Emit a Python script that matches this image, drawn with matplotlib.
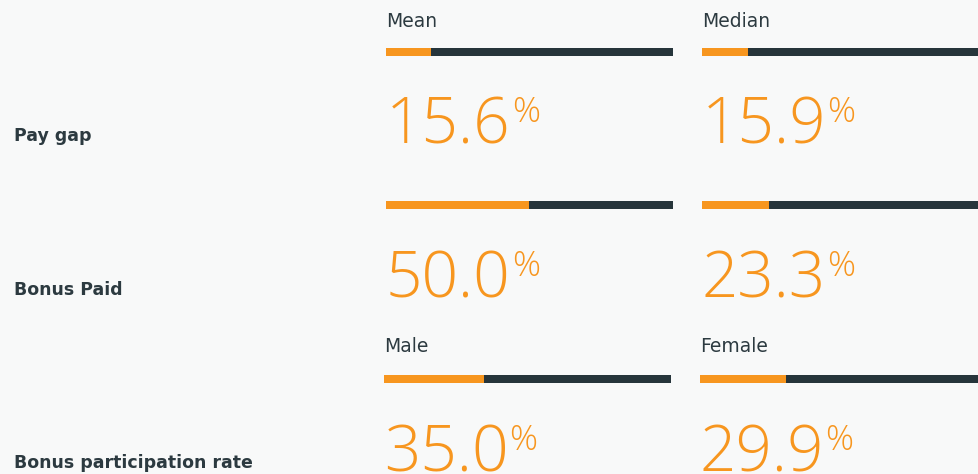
import numpy as np
import matplotlib
matplotlib.use("Agg")
import matplotlib.pyplot as plt

# Gender pay gap summary: values
row_labels = ["Pay gap", "Bonus Paid", "Bonus participation rate"]
col_headers = [["Mean", "Median"], ["", ""], ["Male", "Female"]]
values = [[15.6, 15.9], [50.0, 23.3], [35.0, 29.9]]

ORANGE = "#f7961f"
DARK = "#26353b"
TEXT = "#2c3a40"
BG = "#f8f9f9"

W, H = 979, 474
fig = plt.figure(figsize=(W / 100, H / 100), dpi=100, facecolor=BG)
ax = fig.add_axes([0, 0, 1, 1])
ax.set_xlim(0, W)
ax.set_ylim(H, 0)
ax.set_facecolor(BG)
ax.axis("off")

# layout in pixel units
col_x = [[386, 702], [386, 702], [384, 700]]
bar_y = [52, 205, 379]
header_y = [21, None, 346]
num_base = [143, 297, 471]
label_y = [136, 290, 463]
track_w = 287
bar_h = 8

num_font = dict(family=["Open Sans", "DejaVu Sans"], fontweight=300, color=ORANGE)

fig.canvas.draw()
renderer = fig.canvas.get_renderer()

for r, label in enumerate(row_labels):
    ax.text(14, label_y[r], label, fontsize=12.5, fontweight="bold",
            color=TEXT, va="center", ha="left")
    for c in range(2):
        x0 = col_x[r][c]
        v = values[r][c]
        # background track then filled part
        ax.barh(bar_y[r], track_w, left=x0, height=bar_h, color=DARK, linewidth=0)
        ax.barh(bar_y[r], track_w * v / 100, left=x0, height=bar_h,
                color=ORANGE, linewidth=0)
        if header_y[r] is not None:
            ax.text(x0, header_y[r], col_headers[r][c], fontsize=13.5,
                    color=TEXT, va="center", ha="left")
        t = ax.text(x0, num_base[r], f"{v:.1f}", fontsize=46,
                    va="baseline", ha="left", **num_font)
        bb = t.get_window_extent(renderer=renderer)
        ax.text(x0 + bb.width + 1, num_base[r] - 21, "%", fontsize=25,
                va="baseline", ha="left", **num_font)

fig.savefig("out.png", dpi=100, facecolor=BG)
